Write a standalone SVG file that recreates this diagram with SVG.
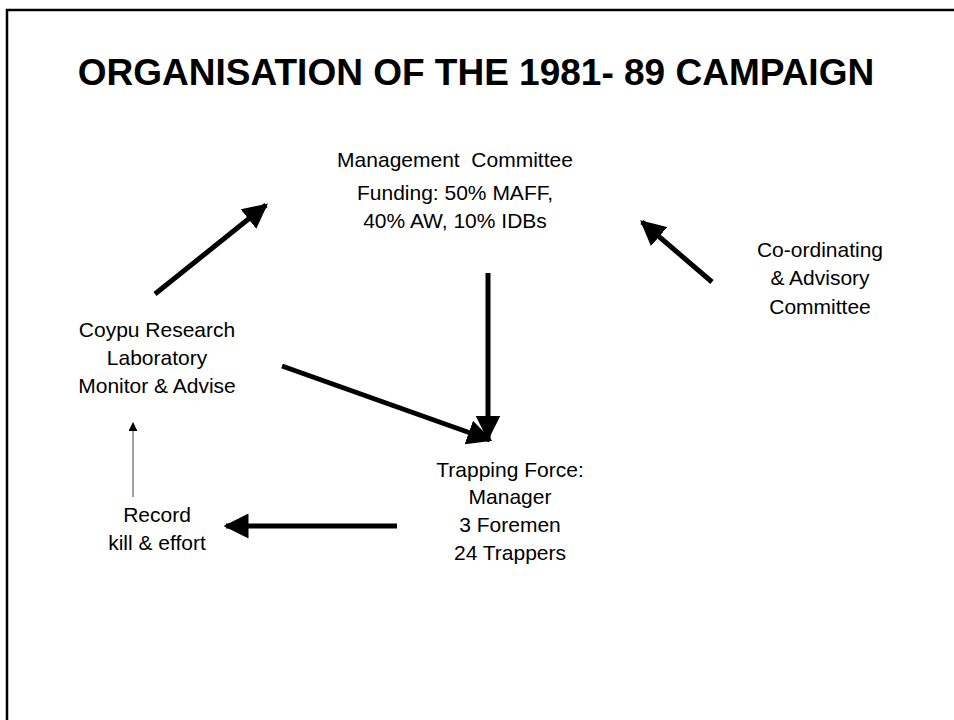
<svg xmlns="http://www.w3.org/2000/svg" width="954" height="720" viewBox="0 0 954 720">
  <style>
    .title { font-family: "Liberation Sans", Arial, sans-serif; font-weight: bold; font-size: 37px; fill: #000; }
    .lbl { font-family: "Liberation Sans", Arial, sans-serif; font-size: 21px; fill: #000; text-anchor: middle; }
    .thick { stroke: #000; stroke-width: 5; fill: none; }
    .thin { stroke: #808080; stroke-width: 1.5; fill: none; }
  </style>
  <defs>
    <marker id="headBig" viewBox="0 0 10 10" refX="9" refY="5" markerWidth="5" markerHeight="5" orient="auto" markerUnits="strokeWidth">
      <path d="M0,0 L10,5 L0,10 z" fill="#000"/>
    </marker>
    <marker id="headSmall" viewBox="0 0 10 10" refX="9" refY="5" markerWidth="6" markerHeight="6" orient="auto" markerUnits="strokeWidth">
      <path d="M0,0 L10,5 L0,10 z" fill="#000"/>
    </marker>
  </defs>
  <rect width="954" height="720" fill="#fff"/>
  <!-- slide frame, running off the right and bottom edges -->
  <path d="M7,720 V10 H954" fill="none" stroke="#000" stroke-width="2.5"/>

  <text class="title" x="476" y="85" text-anchor="middle">ORGANISATION OF THE 1981- 89 CAMPAIGN</text>

  <g id="connectors">
    <line class="thick" x1="155" y1="294" x2="266" y2="205" marker-end="url(#headBig)"/>
    <line class="thick" x1="712" y1="282" x2="642" y2="222" marker-end="url(#headBig)"/>
    <line class="thick" x1="488" y1="273" x2="488" y2="438" marker-end="url(#headBig)"/>
    <line class="thick" x1="282" y1="366" x2="490" y2="440" marker-end="url(#headBig)"/>
    <line class="thick" x1="397" y1="526" x2="226" y2="526" marker-end="url(#headBig)"/>
    <line class="thin" x1="133" y1="497" x2="133" y2="423" marker-end="url(#headSmall)"/>
  </g>

  <g id="management">
    <text class="lbl" x="455" y="167" xml:space="preserve">Management  Committee</text>
    <text class="lbl" x="455" y="200">Funding: 50% MAFF,</text>
    <text class="lbl" x="455" y="228">40% AW, 10% IDBs</text>
  </g>
  <g id="coordinating">
    <text class="lbl" x="820" y="257">Co-ordinating</text>
    <text class="lbl" x="820" y="285">&amp; Advisory</text>
    <text class="lbl" x="820" y="314">Committee</text>
  </g>
  <g id="coypu">
    <text class="lbl" x="157" y="337">Coypu Research</text>
    <text class="lbl" x="157" y="365">Laboratory</text>
    <text class="lbl" x="157" y="393">Monitor &amp; Advise</text>
  </g>
  <g id="trapping">
    <text class="lbl" x="510" y="477">Trapping Force:</text>
    <text class="lbl" x="510" y="504">Manager</text>
    <text class="lbl" x="510" y="532">3 Foremen</text>
    <text class="lbl" x="510" y="560">24 Trappers</text>
  </g>
  <g id="record">
    <text class="lbl" x="157" y="522">Record</text>
    <text class="lbl" x="157" y="550">kill &amp; effort</text>
  </g>
</svg>
